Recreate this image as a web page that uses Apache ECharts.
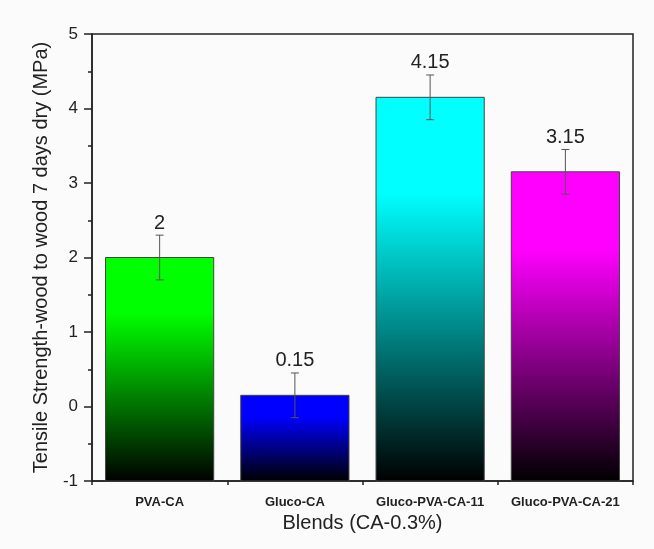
<!DOCTYPE html>
<html>
<head>
<meta charset="utf-8">
<script src="https://cdn.jsdelivr.net/npm/echarts@6/dist/echarts.min.js"></script>
<style>
  html, body { margin: 0; padding: 0; background: #fbfbfb; }
  #chart { width: 654px; height: 549px; }
</style>
</head>
<body>
<div id="chart"></div>
<script>
const categories = ["PVA-CA", "Gluco-CA", "Gluco-PVA-CA-11", "Gluco-PVA-CA-21"];
const values = [2, 0.15, 4.15, 3.15];
const errors = [0.3, 0.3, 0.3, 0.3];
const barColors = ["#00ff00", "#0000ff", "#00ffff", "#ff00ff"];
const yMin = -1;

const chart = echarts.init(document.getElementById("chart"));

// origin-style fill: full colour near the top, fading to black at the base
const gradientFor = (color) =>
  new echarts.graphic.LinearGradient(0, 0, 0, 1, [
    { offset: 0, color: color },
    { offset: 0.25, color: color },
    { offset: 1, color: "#000000" },
  ]);

const barData = values.map((v, i) => [i, v]);
const errData = values.map((v, i) => [i, v - errors[i], v + errors[i], v]);

const option = {
  backgroundColor: "#fbfbfb",
  animation: false,
  textStyle: { fontFamily: "Liberation Sans, Arial, sans-serif" },
  grid: {
    left: 92, right: 21, top: 34, bottom: 68,
    show: true, borderColor: "#222", borderWidth: 1.5,
  },
  xAxis: [
    {
      type: "category",
      data: categories,
      name: "Blends (CA-0.3%)",
      nameLocation: "middle",
      nameGap: 32,
      nameTextStyle: { fontSize: 20, color: "#222" },
      axisLine: { onZero: false, lineStyle: { color: "#222", width: 1.5 } },
      axisTick: { alignWithLabel: true, length: 8, lineStyle: { color: "#222", width: 1.5 } },
      axisLabel: { interval: 0, hideOverlap: false, fontSize: 13, fontWeight: "bold", color: "#222", margin: 15 },
    },
    {
      type: "category",
      data: categories,
      position: "bottom",
      axisLine: { show: false, onZero: false },
      axisTick: { show: true, interval: 0, length: 4, lineStyle: { color: "#222", width: 1.5 } },
      axisLabel: { show: false },
    },
  ],
  yAxis: {
    type: "value",
    min: yMin,
    max: 5,
    interval: 1,
    name: "Tensile Strength-wood to wood 7 days dry (MPa)",
    nameLocation: "middle",
    nameGap: 40,
    nameTextStyle: { fontSize: 20, color: "#222" },
    axisLine: { show: true, lineStyle: { color: "#222", width: 1.5 } },
    axisTick: { show: true, length: 8, lineStyle: { color: "#222", width: 1.5 } },
    minorTick: { show: true, splitNumber: 2, length: 4, lineStyle: { color: "#222", width: 1.5 } },
    splitLine: { show: false },
    axisLabel: { fontSize: 17, color: "#222", margin: 14 },
  },
  series: [
    {
      type: "custom",
      data: barData,
      renderItem: (params, api) => {
        const i = api.value(0);
        const top = api.coord([i, api.value(1)]);
        const bottom = api.coord([i, yMin]);
        const w = api.size([1, 0])[0] * 0.8;
        return {
          type: "rect",
          shape: { x: top[0] - w / 2, y: top[1], width: w, height: bottom[1] - top[1] },
          style: { fill: gradientFor(barColors[params.dataIndex]), stroke: "#444", lineWidth: 1 },
        };
      },
    },
    {
      type: "custom",
      data: errData,
      z: 3,
      renderItem: (params, api) => {
        const i = api.value(0);
        const lo = api.coord([i, api.value(1)]);
        const hi = api.coord([i, api.value(2)]);
        const cap = 4;
        const stroke = { stroke: "#555", lineWidth: 1 };
        return {
          type: "group",
          children: [
            { type: "line", shape: { x1: lo[0], y1: lo[1], x2: hi[0], y2: hi[1] }, style: stroke },
            { type: "line", shape: { x1: hi[0] - cap, y1: hi[1], x2: hi[0] + cap, y2: hi[1] }, style: stroke },
            { type: "line", shape: { x1: lo[0] - cap, y1: lo[1], x2: lo[0] + cap, y2: lo[1] }, style: stroke },
            {
              type: "text",
              style: {
                x: hi[0], y: hi[1] - 2,
                text: String(api.value(3)),
                align: "center", verticalAlign: "bottom",
                fontSize: 20, fill: "#222",
                fontFamily: "Liberation Sans, Arial, sans-serif",
              },
            },
          ],
        };
      },
    },
  ],
};

chart.setOption(option);
</script>
</body>
</html>
